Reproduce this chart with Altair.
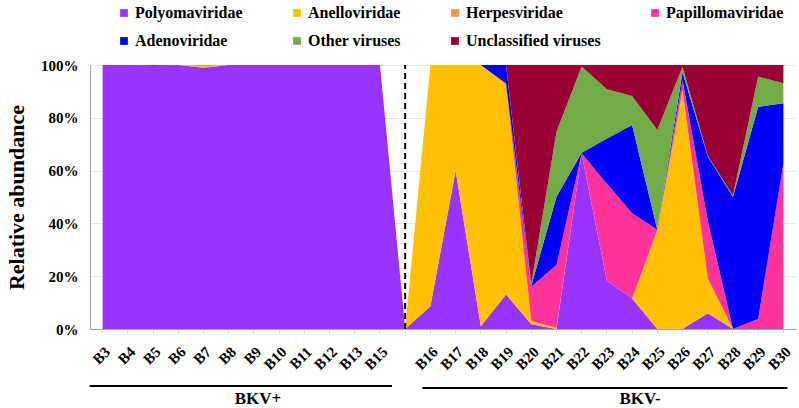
import altair as alt
import pandas as pd

samples = ["B3", "B4", "B5", "B6", "B7", "B8", "B9", "B10", "B11", "B12", "B13", "B15", " ",
           "B16", "B17", "B18", "B19", "B20", "B21", "B22", "B23", "B24", "B25", "B26", "B27",
           "B28", "B29", "B30"]

families = ["Polyomaviridae", "Anelloviridae", "Herpesviridae", "Papillomaviridae",
            "Adenoviridae", "Other viruses", "Unclassified viruses"]
colors = ["#9933FF", "#FFC000", "#F79646", "#FF3399", "#0000FF", "#70AD47", "#990033"]

polyomaviridae = [100, 100, 99.7, 100, 99, 100, 100, 100, 100, 100, 100, 100, 0,
                  8.6, 60, 1, 13.1, 1.8, 0, 66.2, 18.3, 11.6, 0, 0, 6, 0, 0, 0]
anelloviridae = [0, 0, 0, 0, 0.5, 0, 0, 0, 0, 0, 0, 0, 0,
                 91.4, 40, 99, 79.9, 1.2, 0.5, 0, 0, 0, 37.6, 90.5, 13.2, 0, 0, 0]
herpesviridae = [0, 0, 0, 0, 0.5, 0, 0, 0, 0, 0, 0, 0, 0,
                 0, 0, 0, 0, 0, 0, 0, 0, 0, 0, 0, 0, 0, 0, 0]
papillomaviridae = [0, 0, 0, 0, 0, 0, 0, 0, 0, 0, 0, 0, 0,
                    0, 0, 0, 0, 13, 23.7, 0.3, 36.7, 32.2, 0, 3.8, 21.8, 0, 3.8, 62.8]
adenoviridae = [0, 0, 0, 0, 0, 0, 0, 0, 0, 0, 0, 0, 0,
                0, 0, 0, 7, 0.3, 25.9, 0.3, 17.2, 33.5, 0, 3, 24.3, 50.1, 80.4, 22.7]
other_viruses = [0, 0, 0, 0, 0, 0, 0, 0, 0, 0, 0, 0, 0,
                 0, 0, 0, 0, 0.7, 24.6, 32.6, 18.6, 11, 37.8, 2, 0.3, 0.5, 11.4, 7.6]
unclassified = [0, 0, 0.3, 0, 0, 0, 0, 0, 0, 0, 0, 0, 0,
                0, 0, 0, 0, 83, 25.3, 0.6, 9.2, 11.7, 24.6, 0.7, 34.4, 49.4, 4.4, 6.9]

series = [polyomaviridae, anelloviridae, herpesviridae, papillomaviridae,
          adenoviridae, other_viruses, unclassified]

rows = []
for k, (fam, vals) in enumerate(zip(families, series)):
    for s, v in zip(samples, vals):
        rows.append({"sample": s, "family": fam, "value": v, "ord": k})
df = pd.DataFrame(rows)

gap_df = pd.DataFrame({"sample": [" "], "lo": [0], "hi": [100]})

group_labels = ["BKV+", "BKV-"]
group_start = ["B3", "B16"]
group_end = ["B15", "B30"]
group_mid = ["B9", "B24"]
groups = pd.DataFrame({"label": group_labels, "start": group_start,
                       "end": group_end, "mid": group_mid})

W, H = 706, 264
FONT = "'Liberation Serif', 'Times New Roman', Times, serif"

xscale = alt.Scale(domain=samples, padding=0)

area = alt.Chart(df).mark_area(interpolate="linear").encode(
    x=alt.X("sample:N", sort=samples, scale=xscale,
            axis=alt.Axis(title=None, labelAngle=-45, labelFont=FONT, labelFontSize=15,
                          labelFontWeight="bold", labelColor="black", labelPadding=11,
                          domainColor="#A6A6A6", tickColor="#D9D9D9", tickSize=4,
                          grid=False)),
    y=alt.Y("value:Q", stack="zero", scale=alt.Scale(domain=[0, 100], nice=False),
            axis=alt.Axis(title="Relative abundance", values=[0, 20, 40, 60, 80, 100],
                          labelExpr="datum.value + '%'", labelFont=FONT, labelFontSize=15,
                          labelFontWeight="bold", labelColor="black", labelPadding=12,
                          ticks=False, domainColor="#A6A6A6", gridColor="#E6E6E6",
                          titleFont=FONT, titleFontSize=22, titleFontWeight="bold",
                          titleColor="black", titlePadding=12)),
    color=alt.Color("family:N", scale=alt.Scale(domain=families, range=colors),
                    legend=alt.Legend(title=None, orient="none", legendX=26, legendY=-60,
                                      direction="horizontal",
                                      columns=4, gridAlign="each", columnPadding=46,
                                      rowPadding=12, symbolType="square", symbolSize=60,
                                      symbolStrokeWidth=0, labelFont=FONT, labelFontSize=16,
                                      labelFontWeight="bold", labelColor="black",
                                      labelLimit=300, labelOffset=3, padding=0)),
    order=alt.Order("ord:Q", sort="ascending"),
)

dash = alt.Chart(gap_df).mark_rule(color="black", strokeDash=[6, 4], strokeWidth=2).encode(
    x=alt.X("sample:N", sort=samples, scale=xscale),
    y=alt.Y("lo:Q"),
    y2="hi:Q",
)

rule1 = alt.Chart(groups.iloc[[0]]).mark_rule(color="black", strokeWidth=2,
                                               xOffset=-13, x2Offset=12).encode(
    x=alt.X("start:N", sort=samples, scale=xscale),
    x2="end:N",
    y=alt.value(H + 57),
)
rule2 = alt.Chart(groups.iloc[[1]]).mark_rule(color="black", strokeWidth=2,
                                               xOffset=-8, x2Offset=4).encode(
    x=alt.X("start:N", sort=samples, scale=xscale),
    x2="end:N",
    y=alt.value(H + 59),
)
labels_plus = alt.Chart(groups.iloc[[0]]).mark_text(font=FONT, fontSize=17, fontWeight="bold",
                                     color="black", baseline="middle", dx=4).encode(
    x=alt.X("mid:N", sort=samples, scale=xscale),
    y=alt.value(H + 70),
    text="label:N",
)
labels_minus = alt.Chart(groups.iloc[[1]]).mark_text(font=FONT, fontSize=17, fontWeight="bold",
                                     color="black", baseline="middle", dx=8).encode(
    x=alt.X("mid:N", sort=samples, scale=xscale),
    y=alt.value(H + 70),
    text="label:N",
)

chart = alt.layer(area, dash, rule1, rule2, labels_plus, labels_minus).properties(
    width=W, height=H,
    autosize=alt.AutoSizeParams(type="none"),
    padding={"left": 90, "top": 65, "right": 3, "bottom": 79},
).configure_view(stroke=None)

chart.save("out.html", embed_options={"renderer": "svg", "actions": False})
